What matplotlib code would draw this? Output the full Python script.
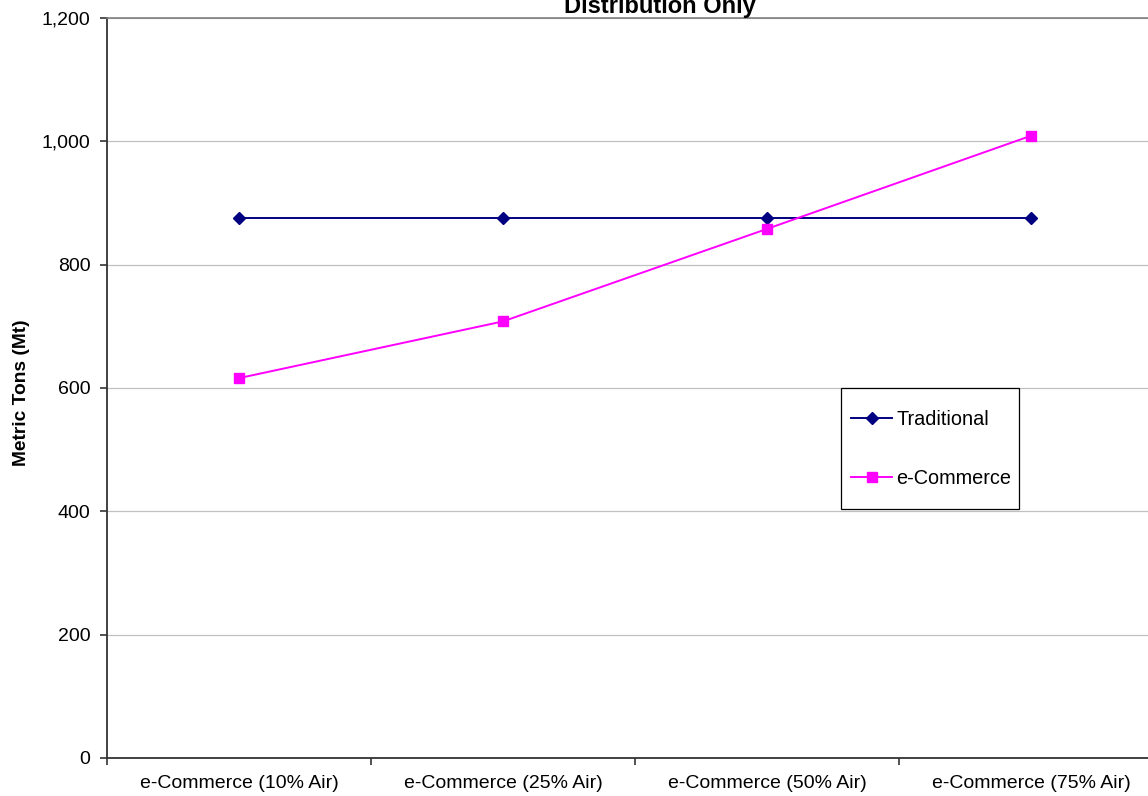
import numpy as np
import matplotlib
matplotlib.use("Agg")
import matplotlib.pyplot as plt
from matplotlib.patches import Rectangle

plt.rcParams['font.family'] = ['Liberation Sans', 'DejaVu Sans']

# scenarios along the x axis
scenarios = ['e-Commerce (10% Air)', 'e-Commerce (25% Air)',
             'e-Commerce (50% Air)', 'e-Commerce (75% Air)']
# metric tons per scenario
traditional = [875, 875, 875, 875]
ecommerce = [616, 708, 858, 1009]

yticks = [0, 200, 400, 600, 800, 1000, 1200]

W, H = 1148, 796
fig = plt.figure(figsize=(W / 100, H / 100), dpi=100)
# plot area runs a bit past the right edge of the figure
ax = fig.add_axes([107/W, 1 - 758/H, 1056/W, 740/H])

x = np.arange(len(scenarios))
ax.plot(x, traditional, color='#000080', lw=1.4, marker='D', ms=6,
        label='Traditional')
ax.plot(x, ecommerce, color='#FF00FF', lw=1.4, marker='s', ms=6.5,
        label='e-Commerce')

ax.set_xlim(-0.5, len(scenarios) - 0.5)
ax.set_ylim(0, 1200)
ax.set_yticks(yticks)
ax.set_yticklabels(['{:,}'.format(v) for v in yticks])

# major ticks sit between categories, labels on minor ticks at centres
ax.set_xticks(np.arange(len(scenarios) + 1) - 0.5)
ax.set_xticklabels([])
ax.set_xticks(x, minor=True)
ax.set_xticklabels(scenarios, minor=True)
ax.tick_params(axis='x', which='major', direction='out', length=5,
               width=1.2, color='#333333')
ax.tick_params(axis='x', which='minor', length=0, pad=12, labelsize=14)
ax.tick_params(axis='y', direction='out', length=5, width=1.2,
               color='#333333', pad=7, labelsize=14)

ax.grid(axis='y', color='#c0c0c0', lw=0.9)
ax.set_axisbelow(True)
for side in ['left', 'bottom']:
    ax.spines[side].set_color('#333333')
    ax.spines[side].set_linewidth(1.3)
ax.spines['top'].set_color('#808080')
ax.spines['top'].set_linewidth(1.2)
ax.spines['right'].set_visible(False)

fig.text(22/W, 1 - 393/H, 'Metric Tons (Mt)', rotation=90,
         ha='center', va='center', fontsize=13.8, fontweight='bold')
fig.text(660/W, 1 - 13/H, 'Distribution Only', ha='center',
         va='baseline', fontsize=17, fontweight='bold')

# legend box drawn separately so the rows can sit far apart
box = (841, 388, 1019, 509)
ax.add_patch(Rectangle((box[0]/W, 1 - box[3]/H),
                       (box[2] - box[0])/W, (box[3] - box[1])/H,
                       transform=fig.transFigure, facecolor='white',
                       edgecolor='black', lw=0.9, zorder=3, clip_on=False))
leg = ax.legend(loc='center',
                bbox_to_anchor=(931/W, 1 - 449/H),
                bbox_transform=fig.transFigure, borderaxespad=0,
                fontsize=14.3, labelspacing=2.05, borderpad=0,
                handlelength=2.1, handletextpad=0.2, frameon=False)
leg.set_zorder(4)

fig.savefig('out.png', dpi=100)
